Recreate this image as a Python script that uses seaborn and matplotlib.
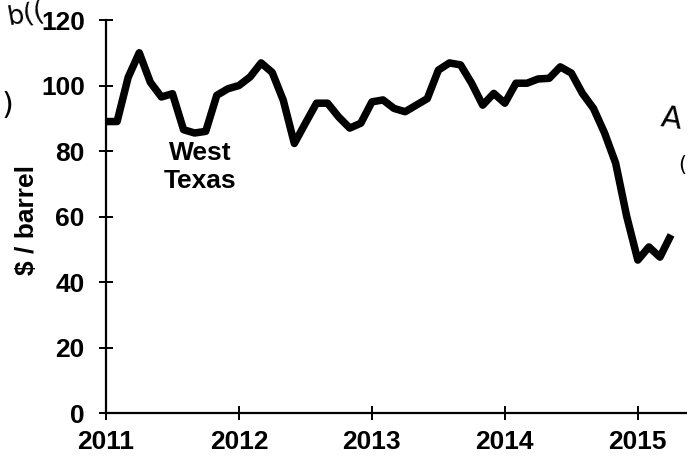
import numpy as np
import pandas as pd
import matplotlib
matplotlib.use("Agg")
import matplotlib.pyplot as plt
import seaborn as sns

# --- DATA (monthly West Texas crude price, $/barrel) ---
START = "2011-01"
prices = [
    89.0, 89.0, 102.5, 110.0, 101.0, 96.5, 97.5, 86.5, 85.5, 86.0, 97.0, 99.0,    # 2011
    100.0, 102.6, 106.9, 104.0, 95.5, 82.3, 88.5, 94.6, 94.6, 90.4, 87.0, 88.5,    # 2012
    95.0, 95.6, 93.0, 92.0, 94.0, 96.0, 104.7, 106.9, 106.3, 100.7, 94.0, 97.6,    # 2013
    94.6, 100.7, 100.7, 102.0, 102.2, 105.7, 103.8, 97.6, 93.0, 85.5, 76.3, 60.0,  # 2014
    46.7, 50.7, 47.6, 54.4,                                                        # 2015
]
year_ticks = [2011, 2012, 2013, 2014, 2015]
y_ticks = [0, 20, 40, 60, 80, 100, 120]
series_label = "West\nTexas"
y_label = "$ / barrel"

dates = pd.date_range(START, periods=len(prices), freq="MS")
df = pd.DataFrame({
    "year": dates.year + (dates.month - 1) / 12.0,
    "price": prices,
})

# --- STYLE ---
sns.set_style("ticks")
plt.rcParams["font.family"] = ["Liberation Sans", "DejaVu Sans"]
plt.rcParams["font.weight"] = "bold"
plt.rcParams["text.color"] = "black"
plt.rcParams["axes.labelcolor"] = "black"
FS = 19

fig = plt.figure(figsize=(6.87, 4.59), dpi=100)
ax = fig.add_axes([0.1543, 0.1002, 0.8457, 0.8562])

sns.lineplot(data=df, x="year", y="price", ax=ax, color="black",
             linewidth=5.4, solid_joinstyle="round", solid_capstyle="butt")

ax.set_xlim(2011, 2015.37)
ax.set_ylim(0, 120)
ax.set_xticks(year_ticks)
ax.set_xticklabels([str(y) for y in year_ticks])
ax.set_yticks(y_ticks)

sns.despine(ax=ax)
for side in ["left", "bottom"]:
    ax.spines[side].set_linewidth(1.6)
    ax.spines[side].set_color("black")
ax.tick_params(axis="both", direction="inout", length=10.5, width=1.4,
               colors="black", labelsize=FS)
ax.tick_params(axis="y", pad=10)
ax.tick_params(axis="x", pad=7)
for lab in ax.get_xticklabels() + ax.get_yticklabels():
    lab.set_fontweight("bold")

ax.set_xlabel("")
ax.set_ylabel(y_label, fontsize=FS, fontweight="bold", color="black")
ax.yaxis.set_label_coords(-0.115, 0.49)

ax.text(2011.71, 75.0, series_label, ha="center", va="center",
        fontsize=FS, fontweight="bold", linespacing=1.2, color="black")

# handwritten scribbles at the margins of the scan
fig.text(0.008, 0.968, "b((", fontsize=19, fontweight="normal", family="DejaVu Sans",
         ha="left", va="center", rotation=10, color="black")
fig.text(0.002, 0.77, ")", fontsize=22, fontweight="normal", family="DejaVu Sans",
         ha="left", va="center", color="black")
fig.text(0.995, 0.74, "A", fontsize=22, fontweight="normal", family="DejaVu Sans",
         ha="right", va="center", rotation=-8, color="black")
fig.text(0.999, 0.64, "(", fontsize=15, fontweight="normal", family="DejaVu Sans",
         ha="right", va="center", color="black")

fig.savefig("out.png", dpi=100)
